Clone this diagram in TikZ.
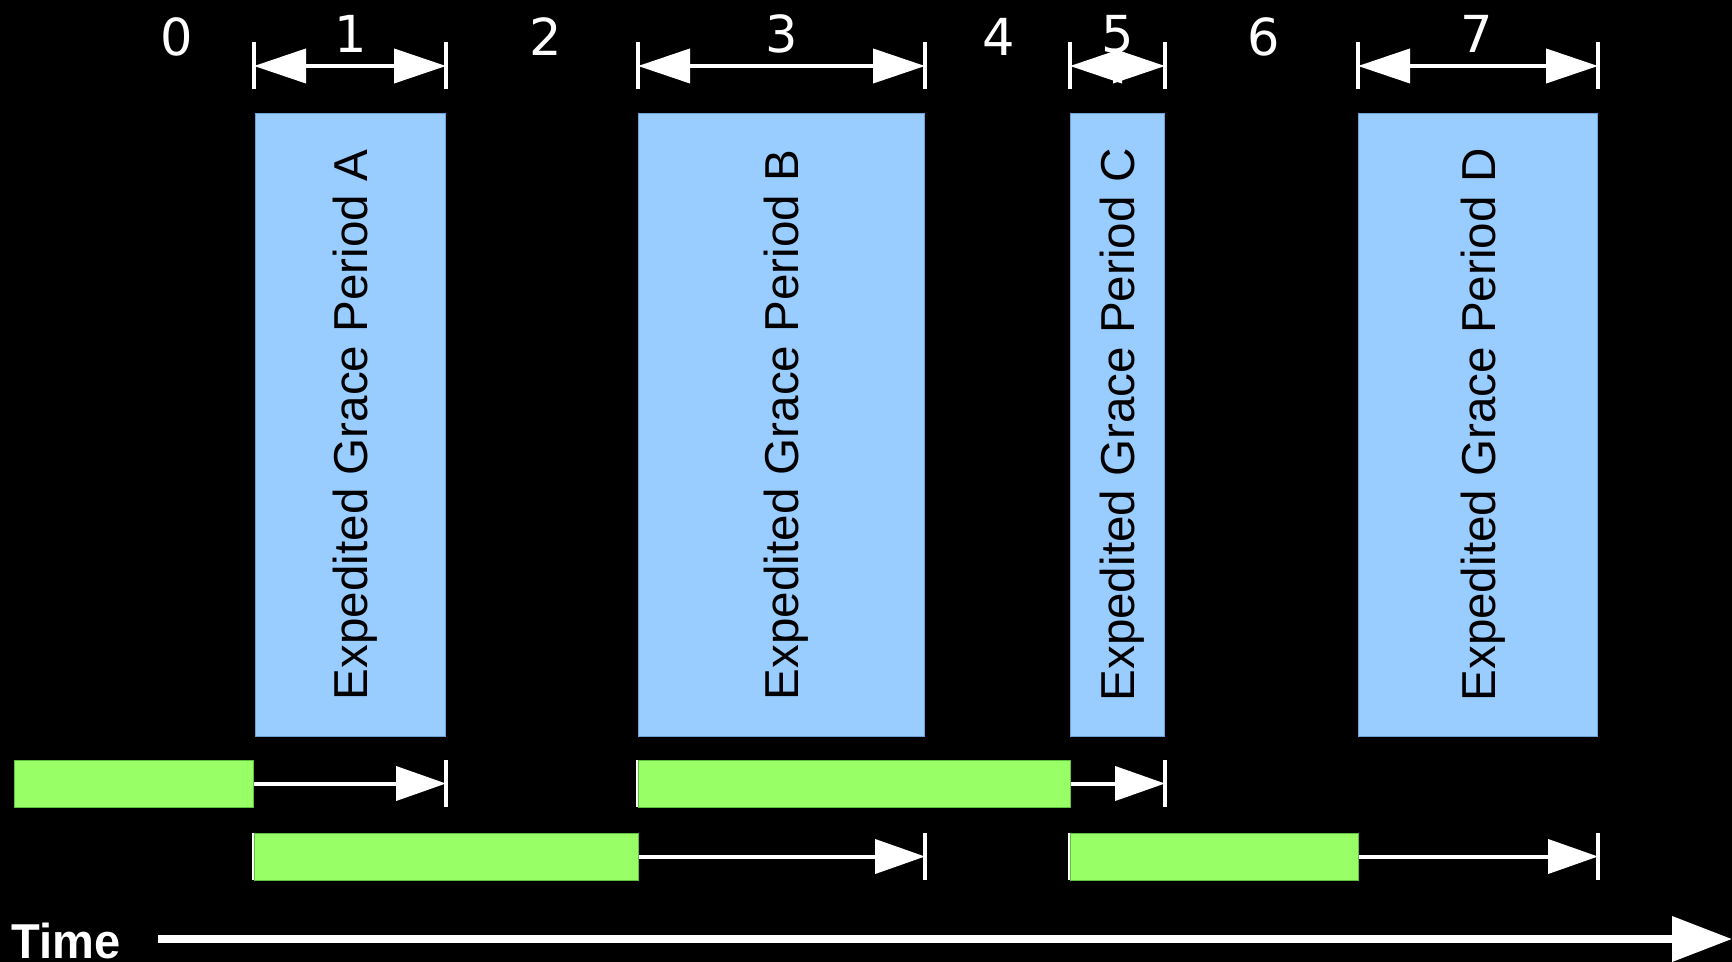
\documentclass[tikz,border=0pt]{standalone}
\usepackage{fontspec}
\setmainfont{Liberation Sans}
\newfontfamily\digitfont{DejaVu Sans}
\usetikzlibrary{arrows.meta}

\definecolor{periodblue}{HTML}{99CCFF}
\definecolor{periodedge}{HTML}{6FA3D6}
\definecolor{waitgreen}{HTML}{99FF66}
\definecolor{waitedge}{HTML}{5FBF3F}

\tikzset{
  period/.style={draw=periodedge, fill=periodblue, line width=0.5pt,
    inner sep=0pt, rotate=90, minimum width=311pt, text=black,
    text depth=0pt, font=\fontsize{23.8}{28}\selectfont},
  waitbar/.style={draw=waitedge, fill=waitgreen, line width=0.5pt,
    inner sep=0pt, minimum height=23.5pt},
  digit/.style={text=white, anchor=base, inner sep=0pt,
    font=\digitfont\fontsize{25.5}{30}\selectfont},
  tick/.style={draw=white, line width=1.6pt},
  dim/.style={draw=white, line width=2pt,
    {Triangle[length=26pt,width=17pt]}-{Triangle[length=26pt,width=17pt]}},
  wait/.style={draw=white, line width=2pt,
    -{Triangle[length=25pt,width=17pt]}},
  timeaxis/.style={draw=white, line width=3.6pt,
    -{Triangle[length=30pt,width=22pt]}}
}

\begin{document}
\begin{tikzpicture}[x=0.5pt,y=-0.5pt]
  % canvas
  \fill[black] (0,0) rectangle (1732,962);
  \useasboundingbox (0,0) rectangle (1732,962);

  % phase numbers
  \node[digit] (n0) at (177,56) {0};
  \node[digit] (n1) at (351,53) {1};
  \node[digit] (n2) at (546,56) {2};
  \node[digit] (n3) at (782,53) {3};
  \node[digit] (n4) at (999,56) {4};
  \node[digit] (n5) at (1118,53) {5};
  \node[digit] (n6) at (1264,56) {6};
  \node[digit] (n7) at (1477,53) {7};

  % extent of each grace period, marked above it
  \foreach \x/\n in {254/a1,446/a2,638/b1,925/b2,1070/c1,1165/c2,1358/d1,1598/d2}{
    \coordinate (top\n) at (\x,42);
    \coordinate (bot\n) at (\x,89);
    \coordinate (mid\n) at (\x,66);
    \draw[tick] (top\n) -- (bot\n);
  }
  \draw[dim] (mida1) -- (mida2);
  \draw[dim] (midb1) -- (midb2);
  \draw[dim] (midc1) -- (midc2);
  \draw[dim] (midd1) -- (midd2);

  % grace periods
  \node[period, minimum height=95pt]   (pA) at (350,425)    {Expedited Grace Period A};
  \node[period, minimum height=143pt]  (pB) at (781.5,425)  {Expedited Grace Period B};
  \node[period, minimum height=47pt]   (pC) at (1117,425)   {Expedited Grace Period C};
  \node[period, minimum height=119.5pt] (pD) at (1478,425)  {Expedited Grace Period D};

  % start marks of the waiting requests
  \draw[tick] (638,760) -- (638,807);
  \draw[tick] (254,833) -- (254,880);
  \draw[tick] (1070,833) -- (1070,880);

  % requests waiting for a grace period
  \node[waitbar, minimum width=119.5pt] (wA) at (134,783.5)  {};
  \node[waitbar, minimum width=216pt]   (wB) at (854,783.5)  {};
  \node[waitbar, minimum width=192pt]   (wC) at (446,856.5)  {};
  \node[waitbar, minimum width=144pt]   (wD) at (1214,856.5) {};

  % grace period serving each request
  \coordinate (eA) at (446,783.5);
  \coordinate (eB) at (1165,783.5);
  \coordinate (eC) at (925,856.5);
  \coordinate (eD) at (1598,856.5);
  \draw[tick] (446,760) -- (446,807);
  \draw[tick] (1165,760) -- (1165,807);
  \draw[tick] (925,833) -- (925,880);
  \draw[tick] (1598,833) -- (1598,880);
  \draw[wait] (wA.east) -- (eA);
  \draw[wait] (wB.east) -- (eB);
  \draw[wait] (wC.east) -- (eC);
  \draw[wait] (wD.east) -- (eD);

  % time axis
  \node[anchor=base west, inner sep=0pt, text=white, xscale=0.96,
        font=\bfseries\fontsize{24.5}{28}\selectfont] (time) at (11,958) {Time};
  \coordinate (tstart) at (158,939);
  \coordinate (tend) at (1732,939);
  \draw[timeaxis] (tstart) -- (tend);
\end{tikzpicture}
\end{document}
